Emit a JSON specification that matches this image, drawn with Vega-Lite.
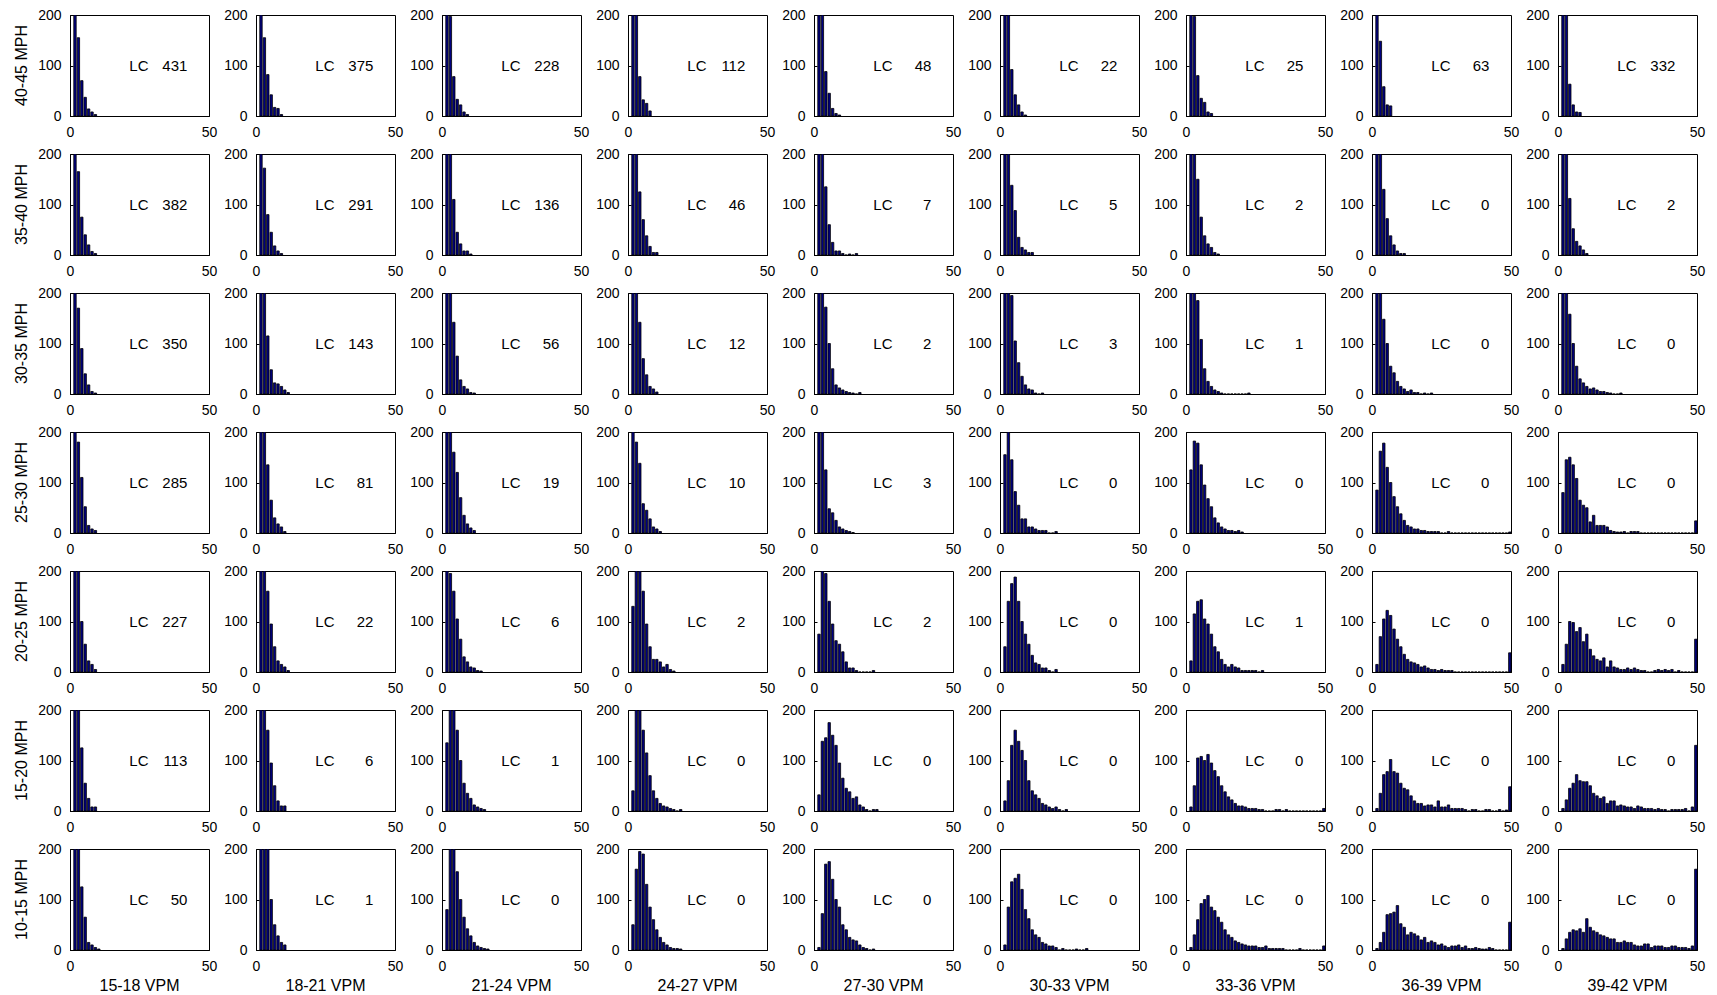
{
 "$schema": "https://vega.github.io/schema/vega-lite/v6.json",
 "background": "white",
 "padding": {"left": 14, "top": 7, "right": 5, "bottom": 5},
 "datasets": {
  "edges": [{"binset": "A", "x": [1,2.225,3.45,4.675,5.9,7.125,8.35,9.575,10.8,12.025,13.25,14.475,15.7,16.925,18.15,19.375,20.6,21.825,23.05,24.275,25.5,26.725,27.95,29.175,30.4,31.625,32.85,34.075,35.3,36.525,37.75,38.975,40.2,41.425,42.65,43.875,45.1,46.325,47.55,48.775]}],
  "panels": [
   {"r":"40-45 MPH","c":"15-18 VPM","lc":431,"binset":"A","n":[200,155,70,37,14,8,3]},
   {"r":"40-45 MPH","c":"18-21 VPM","lc":375,"binset":"A","n":[200,155,82,42,17,15,3]},
   {"r":"40-45 MPH","c":"21-24 VPM","lc":228,"binset":"A","n":[200,197,78,33,22,8,3]},
   {"r":"40-45 MPH","c":"24-27 VPM","lc":112,"binset":"A","n":[200,200,78,32,25,10]},
   {"r":"40-45 MPH","c":"27-30 VPM","lc":48,"binset":"A","n":[200,200,88,45,15,5,2]},
   {"r":"40-45 MPH","c":"30-33 VPM","lc":22,"binset":"A","n":[200,200,92,42,22,8,2]},
   {"r":"40-45 MPH","c":"33-36 VPM","lc":25,"binset":"A","n":[200,197,80,35,27,8,5]},
   {"r":"40-45 MPH","c":"36-39 VPM","lc":63,"binset":"A","n":[200,148,58,22,20]},
   {"r":"40-45 MPH","c":"39-42 VPM","lc":332,"binset":"A","n":[200,200,63,22,8,7]},
   {"r":"35-40 MPH","c":"15-18 VPM","lc":382,"binset":"A","n":[200,165,75,40,20,7,3]},
   {"r":"35-40 MPH","c":"18-21 VPM","lc":291,"binset":"A","n":[200,172,80,45,18,8,3]},
   {"r":"35-40 MPH","c":"21-24 VPM","lc":136,"binset":"A","n":[200,200,110,45,22,8,8,2]},
   {"r":"35-40 MPH","c":"24-27 VPM","lc":46,"binset":"A","n":[200,200,125,70,38,17,5,5]},
   {"r":"35-40 MPH","c":"27-30 VPM","lc":7,"binset":"A","n":[200,200,135,60,25,8,8,3,0,2,0,3]},
   {"r":"35-40 MPH","c":"30-33 VPM","lc":5,"binset":"A","n":[200,200,138,88,35,15,10,5,5]},
   {"r":"35-40 MPH","c":"33-36 VPM","lc":2,"binset":"A","n":[200,200,150,75,38,22,15,5,2]},
   {"r":"35-40 MPH","c":"36-39 VPM","lc":0,"binset":"A","n":[200,200,130,72,38,20,8,3,3]},
   {"r":"35-40 MPH","c":"39-42 VPM","lc":2,"binset":"A","n":[200,200,112,52,27,18,10,3]},
   {"r":"30-35 MPH","c":"15-18 VPM","lc":350,"binset":"A","n":[200,170,90,40,18,5,2]},
   {"r":"30-35 MPH","c":"18-21 VPM","lc":143,"binset":"A","n":[200,200,115,48,22,20,15,8,3]},
   {"r":"30-35 MPH","c":"21-24 VPM","lc":56,"binset":"A","n":[200,200,142,75,28,15,10,3,2]},
   {"r":"30-35 MPH","c":"24-27 VPM","lc":12,"binset":"A","n":[200,200,142,70,38,15,10,4]},
   {"r":"30-35 MPH","c":"27-30 VPM","lc":2,"binset":"A","n":[200,200,172,100,50,18,12,8,5,3,2,0,3]},
   {"r":"30-35 MPH","c":"30-33 VPM","lc":3,"binset":"A","n":[200,200,195,105,62,35,18,10,8,2,0,2]},
   {"r":"30-35 MPH","c":"33-36 VPM","lc":1,"binset":"A","n":[200,200,185,108,50,25,15,8,5,2,0,0,0,0,0,0,0,2]},
   {"r":"30-35 MPH","c":"36-39 VPM","lc":0,"binset":"A","n":[200,200,148,100,55,42,25,15,10,5,8,3,3,0,2,0,2]},
   {"r":"30-35 MPH","c":"39-42 VPM","lc":0,"binset":"A","n":[200,200,158,100,55,30,22,15,10,12,8,5,5,3,2,0,0,2]},
   {"r":"25-30 MPH","c":"15-18 VPM","lc":285,"binset":"A","n":[200,180,110,52,15,8,5]},
   {"r":"25-30 MPH","c":"18-21 VPM","lc":81,"binset":"A","n":[200,200,135,65,30,18,12,3]},
   {"r":"25-30 MPH","c":"21-24 VPM","lc":19,"binset":"A","n":[200,200,160,120,70,35,18,10,5]},
   {"r":"25-30 MPH","c":"24-27 VPM","lc":10,"binset":"A","n":[200,180,138,58,45,28,12,8,3]},
   {"r":"25-30 MPH","c":"27-30 VPM","lc":3,"binset":"A","n":[200,200,125,48,40,25,12,8,5,3,1]},
   {"r":"25-30 MPH","c":"30-33 VPM","lc":0,"binset":"A","n":[155,200,145,82,55,28,28,12,12,8,5,5,5,0,0,3]},
   {"r":"25-30 MPH","c":"33-36 VPM","lc":0,"binset":"A","n":[125,182,178,135,95,68,52,30,20,12,8,5,5,3,5,2]},
   {"r":"25-30 MPH","c":"36-39 VPM","lc":0,"binset":"A","n":[85,162,178,130,100,72,52,38,25,15,12,8,8,5,5,3,3,3,3,0,0,3,0,0,0,0,0,0,0,0,0,0,0,0,0,0,0,0,0,2]},
   {"r":"25-30 MPH","c":"39-42 VPM","lc":0,"binset":"A","n":[80,145,150,135,108,65,55,50,22,35,15,15,15,12,5,3,2,2,3,0,3,3,3,0,0,0,0,0,0,0,0,0,0,0,0,0,0,0,0,24]},
   {"r":"20-25 MPH","c":"15-18 VPM","lc":227,"binset":"A","n":[200,200,100,55,22,15,5]},
   {"r":"20-25 MPH","c":"18-21 VPM","lc":22,"binset":"A","n":[200,200,160,95,50,22,15,10,3]},
   {"r":"20-25 MPH","c":"21-24 VPM","lc":6,"binset":"A","n":[200,195,160,105,65,30,20,10,8,3,2]},
   {"r":"20-25 MPH","c":"24-27 VPM","lc":2,"binset":"A","n":[130,200,200,160,95,50,25,25,20,10,15,5,2]},
   {"r":"20-25 MPH","c":"27-30 VPM","lc":2,"binset":"A","n":[75,200,195,140,95,62,55,40,20,8,8,3,0,0,0,0,3]},
   {"r":"20-25 MPH","c":"30-33 VPM","lc":0,"binset":"A","n":[50,140,175,188,140,100,75,55,33,18,15,8,8,3,0,5]},
   {"r":"20-25 MPH","c":"33-36 VPM","lc":1,"binset":"A","n":[22,115,140,143,105,95,75,50,40,25,15,10,15,10,8,3,3,3,3,3,0,3]},
   {"r":"20-25 MPH","c":"36-39 VPM","lc":0,"binset":"A","n":[15,70,105,122,112,85,65,50,35,25,20,18,15,10,12,8,5,5,3,5,3,3,3,0,0,0,0,0,0,0,0,0,0,0,0,0,0,0,0,38]},
   {"r":"20-25 MPH","c":"39-42 VPM","lc":0,"binset":"A","n":[15,55,100,98,80,88,60,75,45,32,25,22,28,10,22,10,8,5,5,8,5,8,5,3,3,0,0,3,5,3,5,3,5,0,3,0,0,0,0,65]},
   {"r":"15-20 MPH","c":"15-18 VPM","lc":113,"binset":"A","n":[200,200,125,55,25,8,8]},
   {"r":"15-20 MPH","c":"18-21 VPM","lc":6,"binset":"A","n":[200,200,160,95,50,20,10,10]},
   {"r":"15-20 MPH","c":"21-24 VPM","lc":1,"binset":"A","n":[135,200,200,160,100,55,35,25,12,8,5,3]},
   {"r":"15-20 MPH","c":"24-27 VPM","lc":0,"binset":"A","n":[40,200,200,160,115,70,40,25,15,10,8,5,3,0,3]},
   {"r":"15-20 MPH","c":"27-30 VPM","lc":0,"binset":"A","n":[32,138,145,175,150,130,95,65,45,38,25,28,12,8,3,0,3,3]},
   {"r":"15-20 MPH","c":"30-33 VPM","lc":0,"binset":"A","n":[20,60,130,160,138,120,100,60,40,32,25,15,12,8,5,8,3,0,3]},
   {"r":"15-20 MPH","c":"33-36 VPM","lc":0,"binset":"A","n":[8,50,105,108,100,112,95,80,68,50,38,28,22,15,10,10,8,5,5,5,3,3,0,0,0,3,3,0,3,0,0,0,0,0,0,0,0,0,0,5]},
   {"r":"15-20 MPH","c":"36-39 VPM","lc":0,"binset":"A","n":[5,35,72,78,102,78,75,55,45,42,30,20,15,15,10,12,12,8,20,8,8,12,5,5,5,5,3,0,3,3,0,0,3,3,0,0,3,0,2,48]},
   {"r":"15-20 MPH","c":"39-42 VPM","lc":0,"binset":"A","n":[5,22,45,55,72,60,58,58,50,35,30,25,28,15,20,20,10,12,10,8,8,5,10,8,5,5,5,3,5,3,3,0,3,3,3,3,5,0,8,130]},
   {"r":"10-15 MPH","c":"15-18 VPM","lc":50,"binset":"A","n":[200,200,125,65,15,10,5,2]},
   {"r":"10-15 MPH","c":"18-21 VPM","lc":1,"binset":"A","n":[200,200,200,100,50,28,15,10]},
   {"r":"10-15 MPH","c":"21-24 VPM","lc":0,"binset":"A","n":[80,200,200,155,100,65,42,28,15,8,5,3,2]},
   {"r":"10-15 MPH","c":"24-27 VPM","lc":0,"binset":"A","n":[50,160,195,190,130,85,60,40,25,15,10,5,3,3,2]},
   {"r":"10-15 MPH","c":"27-30 VPM","lc":0,"binset":"A","n":[5,72,170,175,140,100,85,50,40,25,20,18,10,5,3,0,2]},
   {"r":"10-15 MPH","c":"30-33 VPM","lc":0,"binset":"A","n":[10,85,135,142,150,120,80,62,40,30,25,15,12,8,8,5,0,3,0,0,0,2,0,0,3]},
   {"r":"10-15 MPH","c":"33-36 VPM","lc":0,"binset":"A","n":[5,30,60,92,100,108,85,78,65,55,40,30,25,18,15,12,10,8,8,8,5,5,8,3,3,3,3,3,0,0,0,0,3,0,0,0,0,0,0,8]},
   {"r":"10-15 MPH","c":"36-39 VPM","lc":0,"binset":"A","n":[3,15,35,70,72,75,88,52,45,30,35,32,28,20,25,15,18,15,10,12,8,5,8,8,10,5,8,3,3,5,3,2,2,5,3,0,0,0,0,55]},
   {"r":"10-15 MPH","c":"39-42 VPM","lc":0,"binset":"A","n":[3,22,35,40,38,42,35,62,45,38,35,30,28,25,22,22,15,15,18,15,15,10,8,8,12,12,5,8,8,8,5,5,8,8,5,5,5,3,8,160]}
  ]
 },
 "data": {"name": "panels"},
 "transform": [
  {"lookup": "binset", "from": {"data": {"name": "edges"}, "key": "binset", "fields": ["x"]}},
  {"flatten": ["x", "n"]}
 ],
 "facet": {
  "row": {"field": "r", "type": "nominal", "sort": ["40-45 MPH","35-40 MPH","30-35 MPH","25-30 MPH","20-25 MPH","15-20 MPH","10-15 MPH"],
   "header": {"title": null, "labelOrient": "left", "labelAngle": -90, "labelFont": "Liberation Sans", "labelFontSize": 16, "labelColor": "black", "labelPadding": 32}},
  "column": {"field": "c", "type": "nominal", "sort": ["15-18 VPM","18-21 VPM","21-24 VPM","24-27 VPM","27-30 VPM","30-33 VPM","33-36 VPM","36-39 VPM","39-42 VPM"],
   "header": {"title": null, "labelOrient": "bottom", "labelFont": "Liberation Sans", "labelFontSize": 16, "labelColor": "black", "labelPadding": 28}}
 },
 "spacing": {"row": 38, "column": 47},
 "bounds": "flush",
 "resolve": {"axis": {"x": "independent", "y": "independent"}},
 "spec": {
  "width": 139,
  "height": 101,
  "layer": [
   {
    "mark": {"type": "bar", "fill": "#000080", "stroke": "black", "strokeWidth": 0.8, "clip": true},
    "encoding": {
     "x": {"field": "x", "type": "quantitative", "bin": {"binned": true, "step": 1.225},
       "scale": {"domain": [0, 50], "nice": false}, "axis": {"values": [0, 50], "title": null}},
     "y": {"field": "n", "type": "quantitative", "scale": {"domain": [0, 200], "nice": false},
       "axis": {"values": [0, 100, 200], "title": null}}
    }
   },
   {
    "mark": {"type": "text", "text": "LC", "font": "Liberation Sans", "fontSize": 15, "align": "center", "baseline": "middle", "color": "black"},
    "encoding": {"x": {"datum": 24.8, "type": "quantitative"}, "y": {"datum": 100, "type": "quantitative"}, "detail": {"aggregate": "count", "type": "quantitative"}}
   },
   {
    "mark": {"type": "text", "font": "Liberation Sans", "fontSize": 15, "align": "right", "baseline": "middle", "color": "black"},
    "encoding": {"x": {"datum": 42.2, "type": "quantitative"}, "y": {"datum": 100, "type": "quantitative"}, "text": {"field": "lc", "aggregate": "max", "type": "quantitative"}}
   }
  ]
 },
 "config": {
  "view": {"stroke": "black", "strokeWidth": 1},
  "axis": {"labelFont": "Liberation Sans", "labelFontSize": 14, "labelColor": "black", "domainColor": "black", "tickColor": "black", "grid": false, "tickSize": -3, "labelPadding": 12, "labelFlush": false, "labelOverlap": false}
 }
}
